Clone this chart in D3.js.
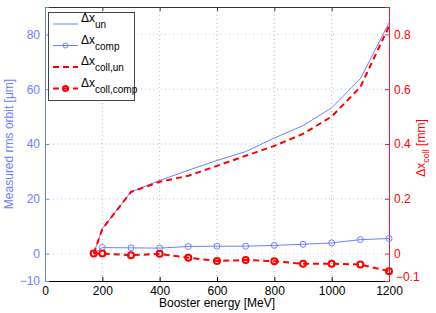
<!DOCTYPE html>
<html><head><meta charset="utf-8">
<script src="https://cdn.jsdelivr.net/npm/d3@7"></script>
<style>body{margin:0;background:#fff}svg{display:block;font-family:"Liberation Sans",Arial,sans-serif}</style>
</head><body><svg id="c" width="436" height="313"></svg>
<script>
const energy = [170, 200, 300, 400, 500, 600, 700, 800, 900, 1000, 1100, 1200];
const dxUn = [0, 9.1, 22.5, 26.7, 30.4, 34, 37.2, 42.2, 46.7, 53.2, 63.8, 84.2];
const dxComp = [0, 2.2, 2.1, 2.0, 2.6, 2.7, 2.7, 3.0, 3.4, 3.9, 5.1, 5.5];
const dxCollUn = [0, 0.09, 0.225, 0.262, 0.284, 0.32, 0.357, 0.393, 0.437, 0.50, 0.608, 0.83];
const dxCollComp = [0, 0.0, -0.006, -0.001, -0.015, -0.027, -0.023, -0.028, -0.037, -0.037, -0.040, -0.064];
const xTicks = [0, 200, 400, 600, 800, 1000, 1200];
const yLeftTicks = [-10, 0, 20, 40, 60, 80];
const yRightTicks = [-0.1, 0, 0.2, 0.4, 0.6, 0.8];

const L = 45, R = 389, T = 7, B = 281;
const blue = "#6b80ff", red = "#ff0000", redAxis = "#e0243c";
const svg = d3.select("#c");
const x = d3.scaleLinear().domain([0, 1200]).range([L, R]);
const yl = d3.scaleLinear().domain([-10, 90]).range([B, T]);
const yr = d3.scaleLinear().domain([-0.1, 0.9]).range([B, T]);

// grid
const g = svg.append("g");
g.selectAll(".vg").data(xTicks.slice(1, -1)).join("line")
  .attr("x1", d => x(d)).attr("x2", d => x(d)).attr("y1", T).attr("y2", B)
  .attr("stroke", "#bbb").attr("stroke-width", 1).attr("stroke-dasharray", "1,3");
g.selectAll(".hg").data([0, 20, 40, 60, 80]).join("line")
  .attr("x1", L).attr("x2", R).attr("y1", d => yl(d)).attr("y2", d => yl(d))
  .attr("stroke", "#c4ccff").attr("stroke-width", 1).attr("stroke-dasharray", "1,3");
g.selectAll(".hg2").data([0.2, 0.4, 0.6]).join("line")
  .attr("x1", L).attr("x2", R).attr("y1", d => yr(d)).attr("y2", d => yr(d))
  .attr("stroke", "#c4ccff").attr("stroke-width", 1).attr("stroke-dasharray", "1,3");

// frame top
svg.append("line").attr("x1", L).attr("x2", R).attr("y1", T + 0.5).attr("y2", T + 0.5).attr("stroke", "#333");

// axes
const xAxis = svg.append("g").attr("transform", `translate(0,${B})`)
  .call(d3.axisBottom(x).tickValues(xTicks).tickSize(-4).tickPadding(5).tickFormat(d3.format("d")));
xAxis.select(".domain").attr("stroke", "#000");
xAxis.selectAll("text").attr("font-size", 12).attr("fill", "#000").attr("font-family", "Liberation Sans, Arial");
const xTop = svg.append("g").attr("transform", `translate(0,${T})`)
  .call(d3.axisTop(x).tickValues(xTicks).tickSize(-4).tickFormat(""));
xTop.select(".domain").remove();
xTop.selectAll("line").attr("stroke", "#333");

const yAxisL = svg.append("g").attr("transform", `translate(${L},0)`)
  .call(d3.axisLeft(yl).tickValues(yLeftTicks).tickSize(-4).tickPadding(5));
yAxisL.select(".domain").attr("stroke", blue);
yAxisL.selectAll("line").attr("stroke", blue);
yAxisL.selectAll("text").attr("font-size", 12).attr("fill", blue).attr("font-family", "Liberation Sans, Arial")
  .text(d => d < 0 ? "\u2212" + Math.abs(d) : d);

const yAxisR = svg.append("g").attr("transform", `translate(${R},0)`)
  .call(d3.axisRight(yr).tickValues(yRightTicks).tickSize(-4).tickPadding(5));
yAxisR.select(".domain").attr("stroke", redAxis);
yAxisR.selectAll("line").attr("stroke", redAxis);
yAxisR.selectAll("text").attr("font-size", 12).attr("fill", red).attr("font-family", "Liberation Sans, Arial")
  .text(d => d < 0 ? "\u2212" + Math.abs(d) : d);
yAxisR.selectAll(".tick").filter(d => d === -0.1).select("text").attr("y", -4).attr("x", 7);

// lines
const lineL = d3.line().x((d, i) => x(energy[i])).y(d => yl(d));
const lineR = d3.line().x((d, i) => x(energy[i])).y(d => yr(d));
svg.append("path").datum(dxUn).attr("d", lineL).attr("fill", "none").attr("stroke", blue).attr("stroke-width", 1);
svg.append("path").datum(dxComp).attr("d", lineL).attr("fill", "none").attr("stroke", blue).attr("stroke-width", 1);
svg.selectAll(".mc").data(dxComp).join("circle")
  .attr("cx", (d, i) => x(energy[i])).attr("cy", d => yl(d)).attr("r", 3)
  .attr("fill", "none").attr("stroke", blue).attr("stroke-width", 1);
svg.append("path").datum(dxCollUn).attr("d", lineR).attr("fill", "none").attr("stroke", red).attr("stroke-width", 2).attr("stroke-dasharray", "6,4");
svg.append("path").datum(dxCollComp).attr("d", lineR).attr("fill", "none").attr("stroke", red).attr("stroke-width", 2).attr("stroke-dasharray", "6,4");
svg.selectAll(".mr").data(dxCollComp).join("circle")
  .attr("cx", (d, i) => x(energy[i])).attr("cy", d => yr(d)).attr("r", 3)
  .attr("fill", "none").attr("stroke", red).attr("stroke-width", 2);

// axis titles
svg.append("text").attr("x", (L + R) / 2).attr("y", 307).attr("text-anchor", "middle")
  .attr("font-size", 12).attr("fill", "#000").text("Booster energy [MeV]");
svg.append("text").attr("transform", `translate(13,${(T + B) / 2}) rotate(-90)`).attr("text-anchor", "middle")
  .attr("font-size", 12).attr("fill", blue).text("Measured rms orbit [\u03bcm]");
const rt = svg.append("text").attr("transform", `translate(425,${(T + B) / 2 + 4}) rotate(-90)`).attr("text-anchor", "middle")
  .attr("font-size", 12).attr("fill", red);
rt.append("tspan").text("\u0394x");
rt.append("tspan").attr("font-size", 9).attr("dy", 4).text("coll");
rt.append("tspan").attr("dy", -4).text(" [mm]");

// legend
const leg = svg.append("g");
leg.append("rect").attr("x", 48.5).attr("y", 12.5).attr("width", 86).attr("height", 88)
  .attr("fill", "#fff").attr("stroke", "#444").attr("stroke-width", 1);
const items = [
  {sub: "un", color: blue, w: 1, dash: null, marker: false},
  {sub: "comp", color: blue, w: 1, dash: null, marker: true},
  {sub: "coll,un", color: red, w: 2, dash: "6,4", marker: false},
  {sub: "coll,comp", color: red, w: 2, dash: "6,4", marker: true}
];
items.forEach((it, i) => {
  const yy = 24 + i * 21.5;
  leg.append("line").attr("x1", 53).attr("x2", 78).attr("y1", yy).attr("y2", yy)
    .attr("stroke", it.color).attr("stroke-width", it.w).attr("stroke-dasharray", it.dash);
  if (it.marker) leg.append("circle").attr("cx", 65.5).attr("cy", yy).attr("r", 2.5)
    .attr("fill", "none").attr("stroke", it.color).attr("stroke-width", it.w);
  const t = leg.append("text").attr("x", 81).attr("y", yy - 2).attr("font-size", 12).attr("fill", "#000");
  t.append("tspan").text("\u0394x");
  t.append("tspan").attr("font-size", 10).attr("dy", 6).text(it.sub);
});
</script></body></html>
